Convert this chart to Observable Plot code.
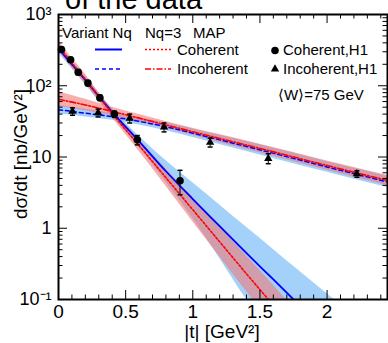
<!DOCTYPE html>
<html><head><meta charset="utf-8">
<script src="https://cdn.jsdelivr.net/npm/d3@7"></script>
<script src="https://cdn.jsdelivr.net/npm/@observablehq/plot@0.6"></script>
<style>body{margin:0;background:#fff} svg{display:block}</style>
</head><body><div id="chart"></div>
<script>
// ---- text ----
const titleText = "of the data";
const xTitle = "|t| [GeV²]";
const yTitle = "dσ/dt [nb/GeV²]";
const legendHeader = ["Variant Nq", "Nq=3", "MAP"];
const legendRows = ["Coherent", "Incoherent"];
const dataLabels = ["Coherent,H1", "Incoherent,H1"];
const energyLabel = "⟨W⟩=75 GeV";

// ---- ticks ----
const xTickValues = [0, 0.5, 1, 1.5, 2];
const xTickLabels = ["0", "0.5", "1", "1.5", "2"];
const xMinorTicks = [0.1,0.2,0.3,0.4,0.6,0.7,0.8,0.9,1.1,1.2,1.3,1.4,1.6,1.7,1.8,1.9,2.1,2.2,2.3,2.4];
const yTickValues = [0.1, 1, 10, 100, 1000];
const yTickLabels = ["10⁻¹", "1", "10", "10²", "10³"];
const yMinorTicks = [0.2,0.3,0.4,0.5,0.6,0.7,0.8,0.9,2,3,4,5,6,7,8,9,20,30,40,50,60,70,80,90,200,300,400,500,600,700,800,900];

// ---- H1 data ----
const cohT  = [0.022, 0.09, 0.147, 0.219, 0.308, 0.416, 0.587, 0.905];
const cohY  = [323, 232, 155, 109, 68, 40, 17.5, 4.65];
const cohLo = [300, 215, 143, 100, 62, 36, 14.8, 2.95];
const cohHi = [346, 249, 167, 118, 74, 44, 20, 6.5];
const incT  = [0.104, 0.295, 0.53, 0.786, 1.129, 1.562, 2.222];
const incY  = [43.6, 41.6, 34.8, 26.2, 16.0, 9.5, 5.8];
const incLo = [38.5, 36.5, 30, 22.5, 13.8, 8.05, 5.2];
const incHi = [49, 47, 40, 30, 18.4, 11.1, 6.4];

// ---- theory: coherent ----
const tNqCoh   = [0, 0.1, 0.2, 0.3, 0.4, 0.6, 0.8, 1.0, 1.2, 1.4, 1.6, 1.8, 2.0, 2.2];
const nqCoh    = [331, 200, 120, 70.8, 42.7, 16.6, 6.31, 2.57, 1.07, 0.447, 0.191, 0.081, 0.034, 0.0145];
const nqCohHi  = [372, 224, 135, 79.4, 47.9, 19.5, 8.9, 4.35, 2.12, 1.03, 0.504, 0.245, 0.12, 0.059];
const nqCohLo  = [288, 174, 105, 61.7, 37.2, 13.8, 4.45, 1.38, 0.380, 0.100, 0.034, 0.0129, 0.0054, 0.0023];
const tMapCoh  = [0, 0.1, 0.2, 0.3, 0.4, 0.6, 0.8, 1.0, 1.2, 1.4, 1.6, 1.8];
const mapCoh   = [363, 209, 123, 70.8, 40.7, 14.5, 5.13, 1.82, 0.646, 0.229, 0.083, 0.0295];
const mapCohHi = [427, 245, 145, 81.3, 46.8, 17.4, 6.76, 2.69, 1.05, 0.407, 0.158, 0.0589];
const mapCohLo = [309, 178, 105, 61.7, 35.5, 12.0, 3.89, 1.23, 0.398, 0.129, 0.0437, 0.0148];

// ---- theory: incoherent ----
const tInc     = [0, 0.2, 0.4, 0.6, 0.8, 1.0, 1.2, 1.5, 2.0, 2.45];
const mapInc   = [64.6, 53.7, 43.7, 35.1, 28.2, 22.6, 18.2, 13.2, 7.59, 4.68];
const mapIncHi = [82.2, 64.6, 50.1, 39.4, 31.6, 25.4, 20.7, 15.1, 8.81, 5.50];
const mapIncLo = [50.7, 44.7, 38.0, 31.3, 25.1, 20.2, 16.0, 11.5, 6.53, 3.98];
const nqInc    = [46.2, 41.2, 36.7, 31.6, 26.6, 21.6, 17.4, 12.6, 7.24, 4.47];
const nqIncHi  = [53.1, 46.8, 41.2, 35.5, 30.2, 24.8, 20.2, 14.8, 8.61, 5.37];
const nqIncLo  = [40.3, 36.3, 32.7, 28.2, 23.4, 18.8, 15.0, 10.7, 6.10, 3.72];

// ---- build tables ----
const zip = (t, y, lo, hi) => t.map((v, i) => ({t: v, y: y[i], lo: lo[i], hi: hi[i]}));
const NQC = zip(tNqCoh, nqCoh, nqCohLo, nqCohHi);
const MPC = zip(tMapCoh, mapCoh, mapCohLo, mapCohHi);
const MPI = zip(tInc, mapInc, mapIncLo, mapIncHi);
const NQI = zip(tInc, nqInc, nqIncLo, nqIncHi);
const COH = zip(cohT, cohY, cohLo, cohHi);
const INC = zip(incT, incY, incLo, incHi);

const F = "'Liberation Sans', Arial, Helvetica, sans-serif";
const BLUE = "#0000ff", RED = "#ff0000";
const BANDB = "#8cc6f8", BANDR = "#f07878";
const W = 388, H = 343, ML = 58, MR = 1, MT = 14, MB = 44;
const FW = W - ML - MR, FH = H - MT - MB;

const capSym = {draw(ctx, size) { const w = 2.5; ctx.moveTo(-w, 0); ctx.lineTo(w, 0); }};

const plot = Plot.plot({
  width: W, height: H,
  marginLeft: ML, marginRight: MR, marginTop: MT, marginBottom: MB,
  x: {domain: [0, 2.45], label: null},
  y: {type: "log", domain: [0.1, 1000], label: null},
  style: {fontFamily: F, fontSize: "18px", background: "white", color: "black", overflow: "visible"},
  marks: [
    Plot.areaY(NQC, {x: "t", y1: "lo", y2: "hi", fill: BANDB, fillOpacity: 0.8, curve: "monotone-x", clip: true}),
    Plot.areaY(NQI, {x: "t", y1: "lo", y2: "hi", fill: BANDB, fillOpacity: 0.8, curve: "monotone-x", clip: true}),
    Plot.areaY(MPC, {x: "t", y1: "lo", y2: "hi", fill: BANDR, fillOpacity: 0.6, curve: "monotone-x", clip: true}),
    Plot.areaY(MPI, {x: "t", y1: "lo", y2: "hi", fill: BANDR, fillOpacity: 0.6, curve: "monotone-x", clip: true}),
    Plot.line(NQC, {x: "t", y: "y", stroke: BLUE, strokeWidth: 1.8, curve: "monotone-x", clip: true}),
    Plot.line(NQI, {x: "t", y: "y", stroke: BLUE, strokeWidth: 1.5, strokeDasharray: "4,3", curve: "monotone-x", clip: true}),
    Plot.line(MPC, {x: "t", y: "y", stroke: RED, strokeWidth: 1.6, strokeDasharray: "2,2", curve: "monotone-x", clip: true}),
    Plot.line(MPI, {x: "t", y: "y", stroke: RED, strokeWidth: 1.6, strokeDasharray: "6,2,1.5,2", curve: "monotone-x", clip: true}),
    Plot.ruleX(COH, {x: "t", y1: "lo", y2: "hi", stroke: "black", strokeWidth: 1}),
    Plot.ruleX(INC, {x: "t", y1: "lo", y2: "hi", stroke: "black", strokeWidth: 1}),
    Plot.dot(COH, {x: "t", y: "lo", symbol: capSym, stroke: "black", r: 2}),
    Plot.dot(COH, {x: "t", y: "hi", symbol: capSym, stroke: "black", r: 2}),
    Plot.dot(INC, {x: "t", y: "lo", symbol: capSym, stroke: "black", r: 2}),
    Plot.dot(INC, {x: "t", y: "hi", symbol: capSym, stroke: "black", r: 2}),
    Plot.dot(COH, {x: "t", y: "y", symbol: "circle", r: 3.8, fill: "black", stroke: null}),
    Plot.dot(INC, {x: "t", y: "y", symbol: "triangle", r: 3.1, fill: "black", stroke: null}),
    // tick labels
    Plot.axisX(xTickValues, {anchor: "bottom", tickSize: 0, tickPadding: 5, tickFormat: (d) => xTickLabels[xTickValues.indexOf(d)], fontSize: 19, label: null}),
    Plot.axisY(yTickValues, {anchor: "left", tickSize: 0, tickPadding: 7, tickFormat: (d) => yTickLabels[yTickValues.indexOf(d)], fontSize: 18, label: null}),
    // inward ticks
    Plot.tickX(xTickValues, {x: d => d, insetTop: FH - 9, stroke: "black"}),
    Plot.tickX(xMinorTicks, {x: d => d, insetTop: FH - 4.5, stroke: "black"}),
    Plot.tickX(xTickValues, {x: d => d, insetBottom: FH - 9, stroke: "black"}),
    Plot.tickX(xMinorTicks, {x: d => d, insetBottom: FH - 4.5, stroke: "black"}),
    Plot.tickY(yTickValues, {y: d => d, insetRight: FW - 9, stroke: "black"}),
    Plot.tickY(yMinorTicks, {y: d => d, insetRight: FW - 4.5, stroke: "black"}),
    Plot.tickY(yTickValues, {y: d => d, insetLeft: FW - 9, stroke: "black"}),
    Plot.tickY(yMinorTicks, {y: d => d, insetLeft: FW - 4.5, stroke: "black"}),
    Plot.frame({stroke: "black", strokeWidth: 2})
  ]
});

const svg = d3.select(plot);
const g = svg.append("g").attr("font-family", F).attr("fill", "black").attr("text-anchor", "start");
g.append("text").attr("x", 65).attr("y", 9).attr("font-size", 29).text(titleText);
g.append("text").attr("transform", "translate(27,154) rotate(-90)").attr("text-anchor", "middle").attr("font-size", 19).text(yTitle);
g.append("text").attr("x", 222).attr("y", 338).attr("text-anchor", "middle").attr("font-size", 19).text(xTitle);

// legend
const lg = g.append("g").attr("font-size", 15);
lg.append("text").attr("x", 62).attr("y", 38).text(legendHeader[0]);
lg.append("text").attr("x", 145).attr("y", 38).text(legendHeader[1]);
lg.append("text").attr("x", 193).attr("y", 38).text(legendHeader[2]);
const rowY = [49.5, 69];
const styles = [
  [{stroke: BLUE, dash: null, w: 2}, {stroke: RED, dash: "2,2", w: 1.5}],
  [{stroke: BLUE, dash: "4,3", w: 1.5}, {stroke: RED, dash: "6,2,1.5,2", w: 1.5}]
];
legendRows.forEach((lab, i) => {
  const y = rowY[i];
  [[95, 122], [145, 171]].forEach((xs, j) => {
    const s = styles[i][j];
    lg.append("line").attr("x1", xs[0]).attr("x2", xs[1]).attr("y1", y).attr("y2", y)
      .attr("stroke", s.stroke).attr("stroke-width", s.w).attr("stroke-dasharray", s.dash);
  });
  lg.append("text").attr("x", 177).attr("y", y + 5).text(lab);
  lg.append("path").attr("transform", `translate(275,${y + (i ? 0 : 1)})`)
    .attr("d", d3.symbol(i ? d3.symbolTriangle : d3.symbolCircle, i ? 30 : 45)())
    .attr("fill", "black");
  lg.append("text").attr("x", 283).attr("y", y + 5).text(dataLabels[i]);
});
lg.append("text").attr("x", 278).attr("y", 100).text(energyLabel);

document.getElementById("chart").appendChild(plot);
</script>
</body></html>
